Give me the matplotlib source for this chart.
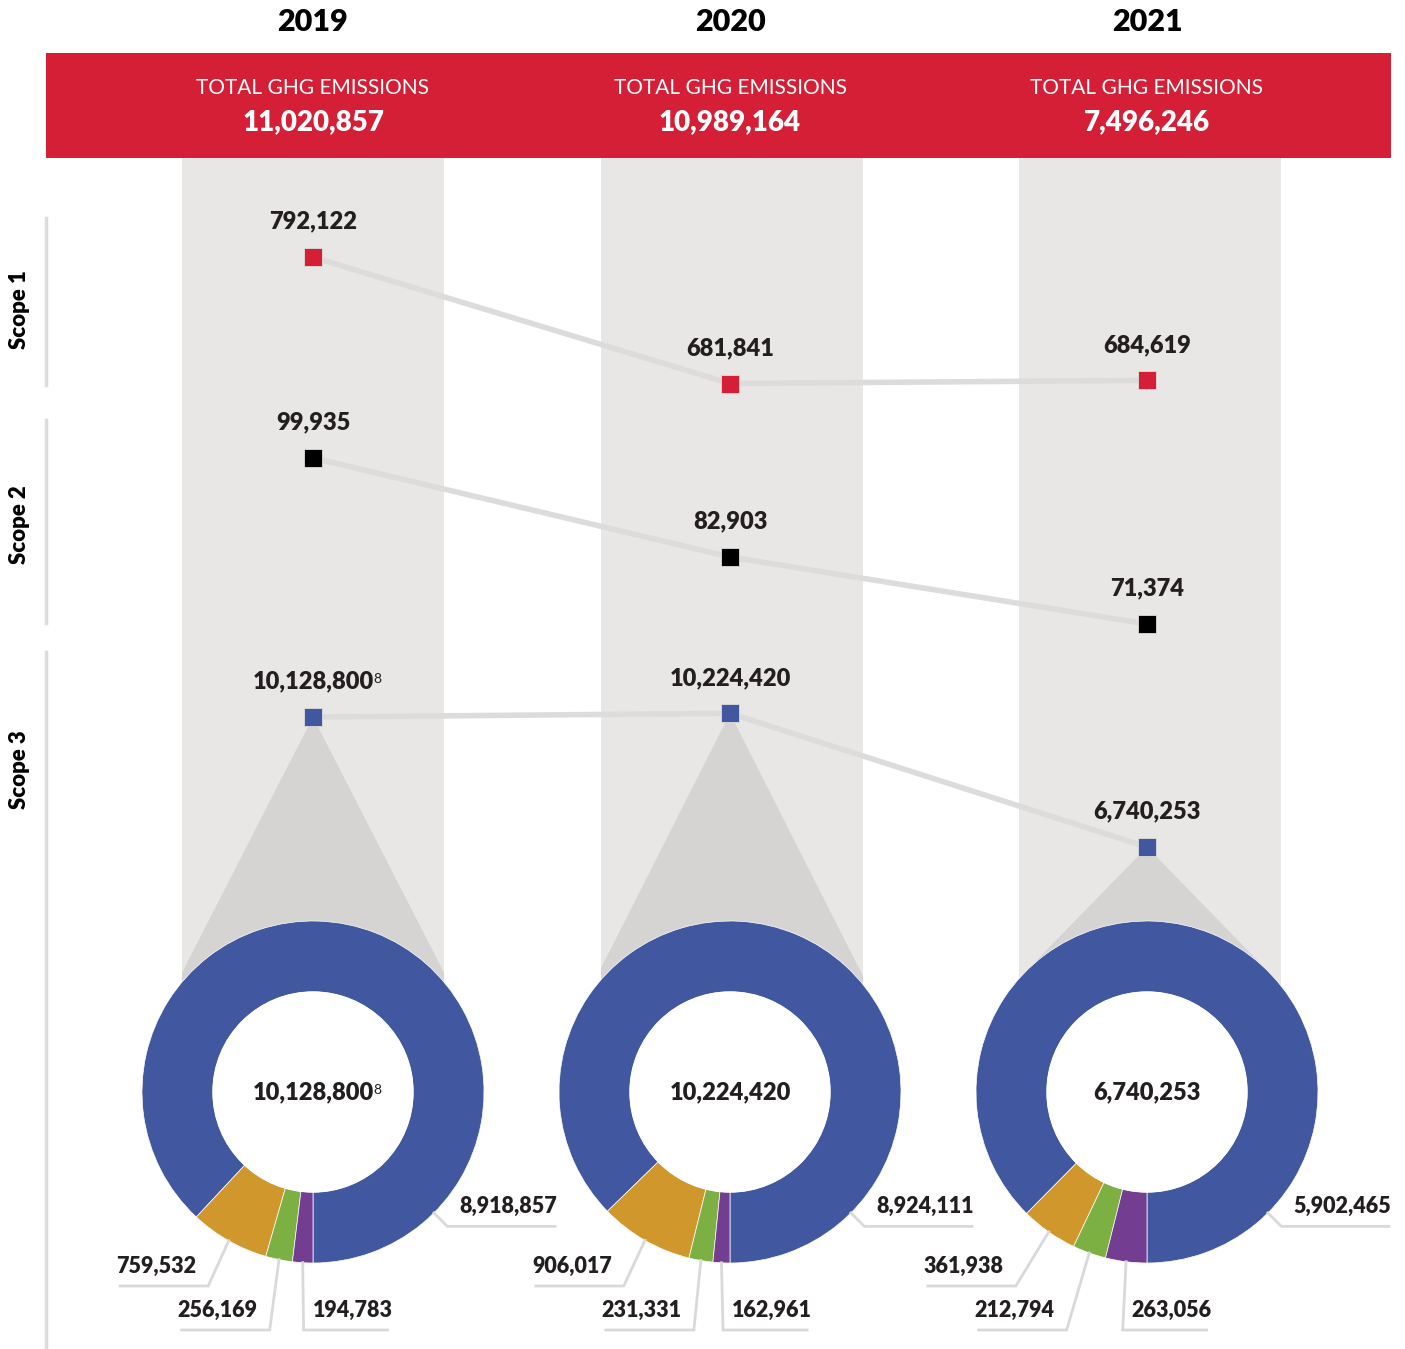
import numpy as np
import matplotlib
matplotlib.use('Agg')
import matplotlib.pyplot as plt
from matplotlib.patches import Rectangle, Polygon, Circle

plt.rcParams['font.family'] = ['Lato', 'DejaVu Sans']

years = ['2019', '2020', '2021']
totals = [11020857, 10989164, 7496246]
scope1 = [792122, 681841, 684619]
scope2 = [99935, 82903, 71374]
scope3 = [10128800, 10224420, 6740253]
scope3_note = ['8', '', '']

# scope 3 breakdown per year
s3_main = [8918857, 8924111, 5902465]
s3_orange = [759532, 906017, 361938]
s3_green = [256169, 231331, 212794]
s3_purple = [194783, 162961, 263056]

RED = '#d51f36'
BLUE = '#4158a0'
DONUT_COLORS = [BLUE, '#d0972c', '#7db043', '#733e91']
INK = '#231f20'
LINE = '#dcdcdc'
BOLD = 'heavy'

W, H = 1405, 1349
X0, DX = 313, 417          # first column centre / spacing (px)
DONUT_Y = 1092
R_OUT, R_IN = 171, 100

fig = plt.figure(figsize=(W / 100, H / 100), dpi=100)


def px_axes(x, y, w, h):
    a = fig.add_axes([x / W, 1 - (y + h) / H, w / W, h / H])
    a.axis('off')
    a.patch.set_visible(False)
    return a


bg = px_axes(0, 0, W, H)
bg.set_xlim(0, W)
bg.set_ylim(H, 0)

# red banner + year headings
bg.add_patch(Rectangle((46, 53), 1345, 105, color=RED, lw=0))
cols = []
for i, yr in enumerate(years):
    cx = X0 + DX * i
    bg.text(cx, 22, yr, ha='center', va='center', fontsize=22,
            fontweight=BOLD, color='black')
    bg.text(cx, 88, 'TOTAL GHG EMISSIONS', ha='center', va='center',
            fontsize=15, fontweight='normal', color='white')
    bg.text(cx, 122, f'{totals[i]:,}', ha='center', va='center',
            fontsize=20, fontweight=BOLD, color='white')
    col = Rectangle((cx - 131 + 1.5 * i, 158), 262, DONUT_Y - 158,
                    color='#e8e7e6', lw=0, zorder=1)
    bg.add_patch(col)
    cols.append(col)

# scope side rules + labels
for (y0, y1), lab, ly in zip([(218, 385), (420, 623), (652, 1349)],
                             ['Scope 1', 'Scope 2', 'Scope 3'],
                             [310, 525, 770]):
    bg.plot([46, 46], [y0, y1], color=LINE, lw=2.5)
    bg.text(20, ly, lab, rotation=90, ha='center', va='center', fontsize=16,
            fontweight=BOLD, color='black')

# scope line panels (value axes)
xlim = (-X0 / DX, (W - X0) / DX)
idx = np.arange(len(years))
panels = [
    (scope1, RED, 200, 220, (650000, 842000)),
    (scope2, 'black', 400, 250, (66900, 109900)),
    (scope3, BLUE, 650, 250, (5360000, 11875000)),
]
scope_axes = []
for vals, c, top, h, ylim in panels:
    ax = px_axes(0, top, W, h)
    ax.set_xlim(*xlim)
    ax.set_ylim(*ylim)
    ax.plot(idx, vals, color=LINE, lw=4, zorder=1)
    ax.plot(idx, vals, ls='none', marker='s', markersize=12.5, color=c,
            markeredgewidth=0.6, markeredgecolor='#dddddd', zorder=3)
    for i, v in enumerate(vals):
        t = ax.annotate(f'{v:,}', (i, v), xytext=(0, 25.5),
                        textcoords='offset points', ha='center', va='center',
                        fontsize=17, fontweight=BOLD, color=INK)
        if vals is scope3 and scope3_note[i]:
            ax.annotate(scope3_note[i], xy=(1, 1), xycoords=t, xytext=(0, -2),
                        textcoords='offset points', ha='left', va='top',
                        fontsize=10, color=INK)
    scope_axes.append(ax)

# gray funnel from scope 3 marker to donut
ax3 = scope_axes[2]
inv = bg.transData.inverted()
for i in idx:
    apx, apy = inv.transform(ax3.transData.transform((i, scope3[i])))
    cx = X0 + DX * i
    d = np.hypot(apx - cx, apy - DONUT_Y)
    phi = np.arctan2(apy - DONUT_Y, apx - cx)
    a = np.arccos(R_OUT / d)
    t1 = (cx + R_OUT * np.cos(phi + a), DONUT_Y + R_OUT * np.sin(phi + a))
    t2 = (cx + R_OUT * np.cos(phi - a), DONUT_Y + R_OUT * np.sin(phi - a))
    tri = Polygon([(apx, apy), t1, (cx, DONUT_Y), t2], closed=True,
                  color='#d5d4d3', lw=0, zorder=2)
    bg.add_patch(tri)
    tri.set_clip_path(cols[i])

# donuts
for i in idx:
    cx = X0 + DX * i
    ax = px_axes(cx - 260, 860, 520, 489)
    vals = [s3_main[i], s3_orange[i], s3_green[i], s3_purple[i]]
    wedges, _ = ax.pie(vals, radius=R_OUT, startangle=270, counterclock=True,
                       colors=DONUT_COLORS,
                       wedgeprops=dict(width=R_OUT - R_IN, lw=0.5,
                                       edgecolor='white'))
    ax.add_patch(Circle((0, 0), R_IN, color='white', zorder=3))
    ax.set_aspect('auto')
    ax.set_xlim(-260, 260)
    ax.set_ylim(-257, 232)
    t = ax.text(0, 0, f'{scope3[i]:,}', ha='center', va='center', fontsize=17,
                fontweight=BOLD, color=INK, zorder=4)
    if scope3_note[i]:
        ax.annotate(scope3_note[i], xy=(1, 1), xycoords=t, xytext=(0, -2),
                    textcoords='offset points', ha='left', va='top',
                    fontsize=10, color=INK, zorder=4)

    lk = dict(color='#d9d9d9', lw=2, solid_joinstyle='miter', zorder=1)
    tk = dict(fontsize=15.5, fontweight=BOLD, color=INK, va='center')
    # main category label, upper right of the bottom
    m = np.radians(-45)
    sx, sy = R_OUT * np.cos(m), R_OUT * np.sin(m)
    ex, ey = 190 * np.cos(m), 190 * np.sin(m)
    ax.plot([sx, ex, 242], [sy, ey, ey], **lk)
    ax.text(146, ey + 20, f'{vals[0]:,}', ha='left', **tk)
    # small categories
    for k, (ely, side) in enumerate([(-194, -1), (-238, -1), (-238, 1)], start=1):
        w = wedges[k]
        m = np.radians((w.theta1 + w.theta2) / 2)
        sx, sy = R_OUT * np.cos(m), R_OUT * np.sin(m)
        r_e = ely / np.sin(m)
        ex = r_e * np.cos(m) + 5
        if side < 0:
            ax.plot([sx, ex, ex - 88], [sy, ely, ely], **lk)
            ax.text(ex - 12, ely + 20, f'{vals[k]:,}', ha='right', **tk)
        else:
            ax.plot([sx, ex, ex + 84], [sy, ely, ely], **lk)
            ax.text(ex + 9, ely + 20, f'{vals[k]:,}', ha='left', **tk)

fig.savefig('out.png', dpi=100)
